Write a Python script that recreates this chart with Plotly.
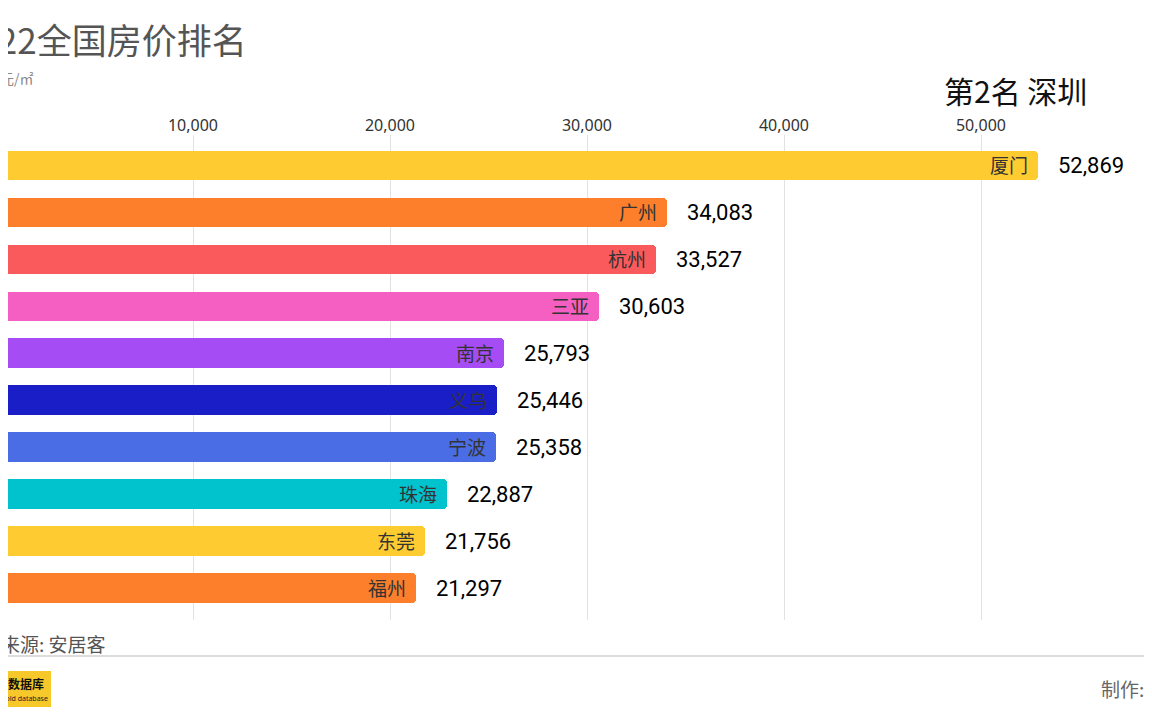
import plotly.graph_objects as go

cities = ["厦门", "广州", "杭州", "三亚", "南京", "义乌", "宁波", "珠海", "东莞", "福州"]
prices = [52869, 34083, 33527, 30603, 25793, 25446, 25358, 22887, 21756, 21297]
colors = ["#FECB31", "#FD7F2C", "#FB5A5C", "#F65FC2", "#A64CF4", "#1A1EC6",
          "#4A6DE5", "#00C3CD", "#FECB31", "#FD7F2C"]
tick_vals = [10000, 20000, 30000, 40000, 50000]

W, H = 1152, 720
OFF = 8  # page body margin offset of the figure
TOP, BOTTOM = 135 - OFF, 620 - OFF
PX_PER_UNIT = 0.0197
ZERO_PX = -4 - OFF
x0 = (0 - ZERO_PX) / PX_PER_UNIT
x1 = (W - ZERO_PX) / PX_PER_UNIT


def px_x(p):
    # p is a screen pixel
    return (p - OFF) / W


def px_y(p):
    return (BOTTOM - (p - OFF)) / (BOTTOM - TOP)


fig = go.Figure()
fig.add_trace(go.Bar(
    x=prices, y=list(range(len(cities))), orientation="h",
    marker=dict(color=colors, line=dict(width=0), cornerradius=4),
    width=0.62,
    hoverinfo="skip",
))

annotations = []
for i, (c, v) in enumerate(zip(cities, prices)):
    annotations.append(dict(
        x=v, y=i, xref="x", yref="y", text=c, showarrow=False,
        xanchor="right", yanchor="middle", xshift=-8, yshift=1,
        font=dict(family="Noto Sans CJK SC", size=19, color="#333333"),
    ))
    annotations.append(dict(
        x=v, y=i, xref="x", yref="y", text=f"{v:,}", showarrow=False,
        xanchor="left", yanchor="middle", xshift=18,
        font=dict(family="Roboto", size=22, color="#000000"),
    ))

# partial "0" tick label at the cut-off left edge
annotations.append(dict(
    x=px_x(-4), y=px_y(125), xref="paper", yref="paper", text="0",
    showarrow=False, xanchor="center", yanchor="middle",
    font=dict(family="Noto Sans", size=16, color="#333333"),
))
annotations.append(dict(
    x=px_x(249), y=px_y(38), xref="paper", yref="paper", text="2022全国房价排名",
    showarrow=False, xanchor="right", yanchor="middle",
    font=dict(family="Noto Sans CJK SC", size=35, color="#555555"),
))
annotations.append(dict(
    x=px_x(36), y=px_y(78), xref="paper", yref="paper", text="单位: 元/㎡",
    showarrow=False, xanchor="right", yanchor="middle",
    font=dict(family="Noto Sans CJK SC", size=14, color="#888888"),
))
annotations.append(dict(
    x=px_x(1089), y=px_y(90), xref="paper", yref="paper", text="第2名 深圳",
    showarrow=False, xanchor="right", yanchor="middle",
    font=dict(family="Noto Sans CJK SC", size=30, color="#111111"),
))
annotations.append(dict(
    x=px_x(108), y=px_y(643), xref="paper", yref="paper", text="数据来源: 安居客",
    showarrow=False, xanchor="right", yanchor="middle",
    font=dict(family="Noto Sans CJK SC", size=19, color="#555555"),
))
annotations.append(dict(
    x=px_x(1146), y=px_y(688), xref="paper", yref="paper", text="制作:",
    showarrow=False, xanchor="right", yanchor="middle",
    font=dict(family="Noto Sans CJK SC", size=19, color="#666666"),
))
annotations.append(dict(
    x=px_x(46), y=px_y(683), xref="paper", yref="paper", text="<b>黑金数据库</b>",
    showarrow=False, xanchor="right", yanchor="middle",
    font=dict(family="Noto Sans CJK SC", size=12, color="#111111"),
))
annotations.append(dict(
    x=px_x(50), y=px_y(698), xref="paper", yref="paper", text="Black gold database",
    showarrow=False, xanchor="right", yanchor="middle",
    font=dict(family="Noto Sans", size=7, color="#222222"),
))

shapes = [
    dict(type="line", xref="paper", yref="paper", x0=px_x(0), x1=px_x(W + OFF),
         y0=px_y(656), y1=px_y(656), line=dict(color="#dddddd", width=2)),
    dict(type="rect", xref="paper", yref="paper", x0=px_x(-5), x1=px_x(51),
         y0=px_y(707), y1=px_y(671), fillcolor="#F6C82A", line=dict(width=0),
         layer="below"),
]

fig.update_layout(
    width=W, height=H,
    margin=dict(l=0, r=0, t=TOP, b=H - BOTTOM, pad=0),
    plot_bgcolor="white", paper_bgcolor="white",
    showlegend=False,
    bargap=0,
    annotations=annotations,
    shapes=shapes,
    xaxis=dict(
        range=[x0, x1], side="top", tickvals=tick_vals, tickformat=",",
        showgrid=True, gridcolor="#e2e2e2", gridwidth=1,
        zeroline=False, showline=False, ticks="",
        tickfont=dict(family="Noto Sans", size=16, color="#333333"),
    ),
    yaxis=dict(
        range=[9.68, -0.64], showticklabels=False, showgrid=False,
        zeroline=False, showline=False, ticks="",
    ),
)

fig.write_html("out.html")
